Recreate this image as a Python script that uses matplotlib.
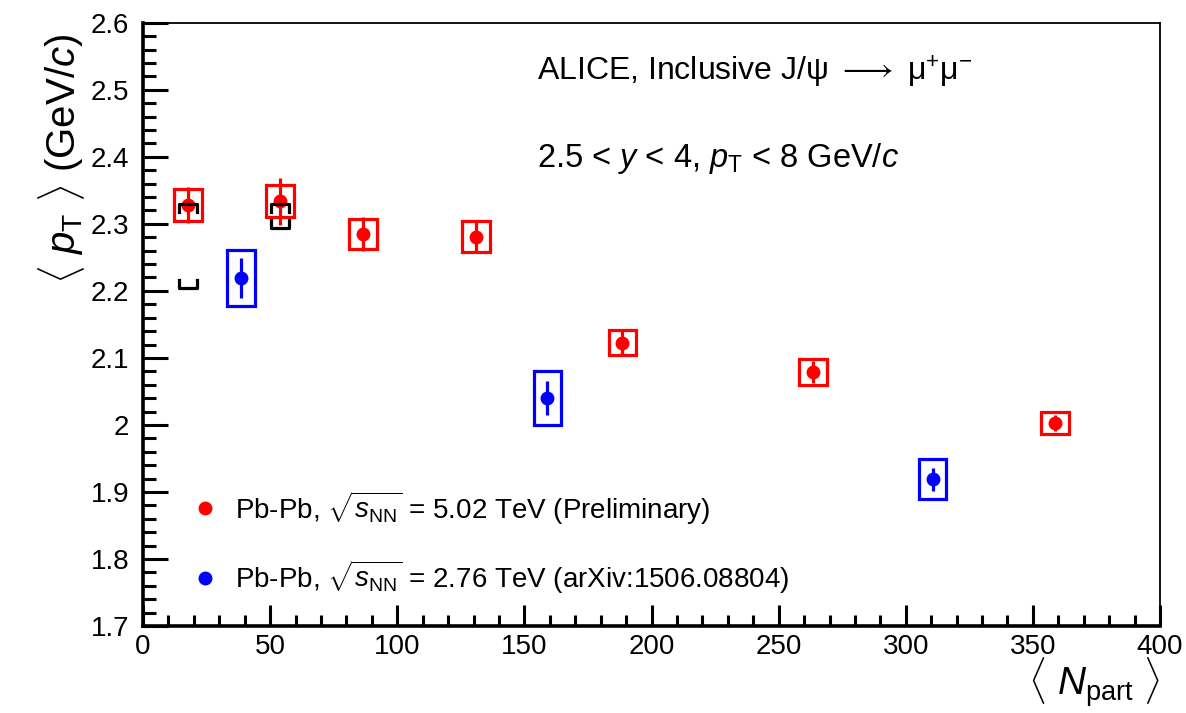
import matplotlib.pyplot as plt
import matplotlib.patches as patches
from matplotlib.ticker import MultipleLocator
import numpy as np

plt.rcParams['font.family'] = ['Liberation Sans', 'DejaVu Sans']
plt.rcParams['mathtext.fontset'] = 'custom'
plt.rcParams['mathtext.rm'] = 'Liberation Sans'
plt.rcParams['mathtext.it'] = 'Liberation Sans:italic'

# Pb-Pb 5.02 TeV (preliminary)
npart_502 = [17.7, 53.9, 86.6, 131.0, 188.5, 263.5, 358.7]
pt_502 = [2.328, 2.334, 2.285, 2.281, 2.123, 2.079, 2.003]
stat_502 = [0.027, 0.035, 0.026, 0.022, 0.019, 0.016, 0.012]
sys_502 = [0.024, 0.024, 0.022, 0.023, 0.019, 0.019, 0.017]

# Pb-Pb 2.76 TeV (arXiv:1506.08804)
npart_276 = [38.6, 159.0, 310.6]
pt_276 = [2.219, 2.040, 1.919]
stat_276 = [0.030, 0.025, 0.017]
sys_276 = [0.042, 0.040, 0.030]

# black bracket ranges
br_x = [17.7, 53.9]
br_lo = [2.204, 2.294]
br_hi = [2.330, 2.330]

box_hw = 5.4

fig = plt.figure(figsize=(11.86, 7.13), dpi=100)
ax = fig.add_axes([0.1206, 0.122, 0.8575, 0.846])


def draw_set(x, y, stat, sys, col):
    for xi, yi, si in zip(x, y, sys):
        ax.add_patch(patches.Rectangle((xi - box_hw, yi - si), 2 * box_hw, 2 * si,
                                       fill=False, edgecolor=col, lw=2.3, zorder=3))
    ax.errorbar(x, y, yerr=stat, fmt='o', color=col, ms=9, elinewidth=2.3,
                capsize=0, zorder=4)


draw_set(npart_502, pt_502, stat_502, sys_502, '#ff0000')
draw_set(npart_276, pt_276, stat_276, sys_276, '#0000ff')

leg = 0.012
bw = 3.5
for xi, lo, hi in zip(br_x, br_lo, br_hi):
    ax.plot([xi - bw, xi - bw, xi + bw, xi + bw], [hi - leg, hi, hi, hi - leg],
            color='black', lw=2.3, zorder=5)
    ax.plot([xi - bw, xi - bw, xi + bw, xi + bw], [lo + leg, lo, lo, lo + leg],
            color='black', lw=2.3, zorder=5)

ax.set_xlim(0, 400)
ax.set_ylim(1.7, 2.6)
ax.xaxis.set_major_locator(MultipleLocator(50))
ax.xaxis.set_minor_locator(MultipleLocator(10))
ax.yaxis.set_minor_locator(MultipleLocator(0.02))
ax.set_yticks(np.arange(1.7, 2.61, 0.1))
ax.set_yticklabels(['1.7', '1.8', '1.9', '2', '2.1', '2.2', '2.3', '2.4', '2.5', '2.6'])
ax.tick_params(which='both', direction='in', top=False, right=False,
               labelsize=20, width=2.2)
ax.tick_params(axis='y', which='major', length=18, pad=10)
ax.tick_params(axis='y', which='minor', length=9)
ax.tick_params(axis='x', which='major', length=15, pad=6)
ax.tick_params(axis='x', which='minor', length=8)
for s in ['left', 'bottom']:
    ax.spines[s].set_linewidth(2.6)
for s in ['top', 'right']:
    ax.spines[s].set_linewidth(1.3)

ax.set_ylabel(r'$\langle\ p_{\rm T}\ \rangle$ (GeV/$c$)', fontsize=29)
ax.yaxis.set_label_coords(-0.08, 0.775)
ax.yaxis.label.set_verticalalignment('center')
ax.set_xlabel(r'$\langle\ N_{\rm part}\ \rangle$', fontsize=28)
ax.xaxis.set_label_coords(1.0, -0.095)
ax.xaxis.label.set_horizontalalignment('right')
ax.xaxis.label.set_verticalalignment('center')

ax.text(0.387, 0.918,
        r'ALICE, Inclusive J/$\mathrm{\psi}\ \longrightarrow\ \mathrm{\mu}^{+}\mathrm{\mu}^{-}$',
        transform=ax.transAxes, fontsize=23, va='center')
ax.text(0.387, 0.775, r'2.5 < $y$ < 4, $p_{\rm T}$ < 8 GeV/$c$',
        transform=ax.transAxes, fontsize=23.5, va='center')

# legend
for yv, col, lab in [(1.876, '#ff0000', r'Pb-Pb, $\sqrt{s_{\rm NN}}$ = 5.02 TeV (Preliminary)'),
                     (1.772, '#0000ff', r'Pb-Pb, $\sqrt{s_{\rm NN}}$ = 2.76 TeV (arXiv:1506.08804)')]:
    ax.plot([24.5], [yv], 'o', color=col, ms=9, clip_on=False)
    ax.text(36, yv, lab, fontsize=20, va='center')

fig.savefig('out.png', dpi=100)
